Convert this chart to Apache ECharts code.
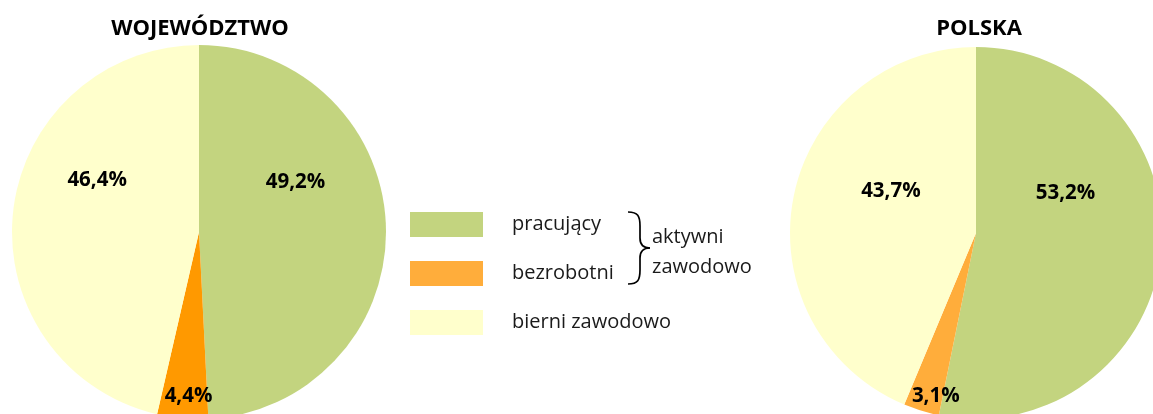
<!DOCTYPE html>
<html>
<head>
<meta charset="utf-8">
<script src="https://cdn.jsdelivr.net/npm/echarts@6/dist/echarts.min.js"></script>
<style>
  html, body { margin: 0; padding: 0; background: #fff; }
  #main { width: 1153px; height: 414px; }
</style>
</head>
<body>
<div id="main"></div>
<script>
// dane
var categories = ['pracujący', 'bezrobotni', 'bierni zawodowo'];
var wojewodztwo = [49.2, 4.4, 46.4];
var polska = [53.2, 3.1, 43.7];
var titles = ['WOJEWÓDZTWO', 'POLSKA'];

var myChart = echarts.init(document.getElementById('main'));

var green = '#C3D47F', yellow = '#FFFFCC';
var colorsLeft = [green, '#FF9900', yellow];
var colorsRight = [green, '#FFAD3B', yellow];

// przesunięcia etykiet wzgledem domyslnej pozycji
var offLeft = [[0, -47], [-2, 68], [-6, -41]];
var offRight = [[-6, -49], [-12, 71], [9, -23]];

function buildData(vals, colors, offs) {
    return vals.map(function (v, i) {
        return {
            name: categories[i],
            value: v,
            itemStyle: { color: colors[i] },
            label: { offset: offs[i] }
        };
    });
}

function fmt(p) {
    return p.value.toFixed(1).replace('.', ',') + '%';
}

function pie(name, center, r, data) {
    return {
        type: 'pie',
        name: name,
        center: center,
        radius: r,
        startAngle: 90,
        clockwise: true,
        silent: true,
        animation: false,
        avoidLabelOverlap: false,
        itemStyle: { borderWidth: 0 },
        label: {
            show: true,
            position: 'inside',
            formatter: fmt,
            color: '#000',
            fontFamily: 'Open Sans',
            fontWeight: 'bold',
            fontSize: 20.5
        },
        labelLine: { show: false },
        data: data
    };
}

var lineStyle = { fill: 'none', stroke: '#000', lineWidth: 1.7 };
// klamra
var brace = [
    { type: 'bezierCurve', shape: { x1: 628, y1: 212, x2: 640, y2: 226, cpx1: 638, cpy1: 212, cpx2: 640, cpy2: 216 }, style: lineStyle },
    { type: 'line', shape: { x1: 640, y1: 226, x2: 640, y2: 238 }, style: lineStyle },
    { type: 'bezierCurve', shape: { x1: 640, y1: 238, x2: 650, y2: 248, cpx1: 640, cpy1: 246, cpx2: 645, cpy2: 248 }, style: lineStyle },
    { type: 'bezierCurve', shape: { x1: 650, y1: 248, x2: 640, y2: 258, cpx1: 645, cpy1: 248, cpx2: 640, cpy2: 250 }, style: lineStyle },
    { type: 'line', shape: { x1: 640, y1: 258, x2: 640, y2: 270 }, style: lineStyle },
    { type: 'bezierCurve', shape: { x1: 640, y1: 270, x2: 628, y2: 284, cpx1: 640, cpy1: 280, cpx2: 638, cpy2: 284 }, style: lineStyle }
];

var txt = { fontFamily: 'Open Sans', fontSize: 20, fill: '#1a1a1a', verticalAlign: 'middle' };

var option = {
    backgroundColor: '#fff',
    animation: false,
    legend: {
        orient: 'vertical',
        left: 405,
        top: 207,
        itemWidth: 73,
        itemHeight: 25,
        itemGap: 24,
        icon: 'rect',
        selectedMode: false,
        data: categories.map(function (c, i) {
            return { name: c, itemStyle: { color: colorsRight[i] } };
        }),
        textStyle: {
            fontFamily: 'Open Sans',
            fontSize: 20,
            color: '#1a1a1a',
            padding: [6, 0, 0, 24]
        }
    },
    graphic: brace.concat([
        {
            type: 'text', x: 200, y: 29,
            style: { text: titles[0], fontFamily: 'Open Sans', fontWeight: 'bold', fontSize: 22, fill: '#000', align: 'center', verticalAlign: 'middle' }
        },
        {
            type: 'text', x: 979, y: 29,
            style: { text: titles[1], fontFamily: 'Open Sans', fontWeight: 'bold', fontSize: 22, fill: '#000', align: 'center', verticalAlign: 'middle' }
        },
        { type: 'text', x: 652, y: 237, style: Object.assign({ text: 'aktywni' }, txt) },
        { type: 'text', x: 652, y: 267, style: Object.assign({ text: 'zawodowo' }, txt) }
    ]),
    series: [
        pie(titles[0], [199, 232], 187, buildData(wojewodztwo, colorsLeft, offLeft)),
        pie(titles[1], [976, 233], 186, buildData(polska, colorsRight, offRight))
    ]
};

myChart.setOption(option);
</script>
</body>
</html>
